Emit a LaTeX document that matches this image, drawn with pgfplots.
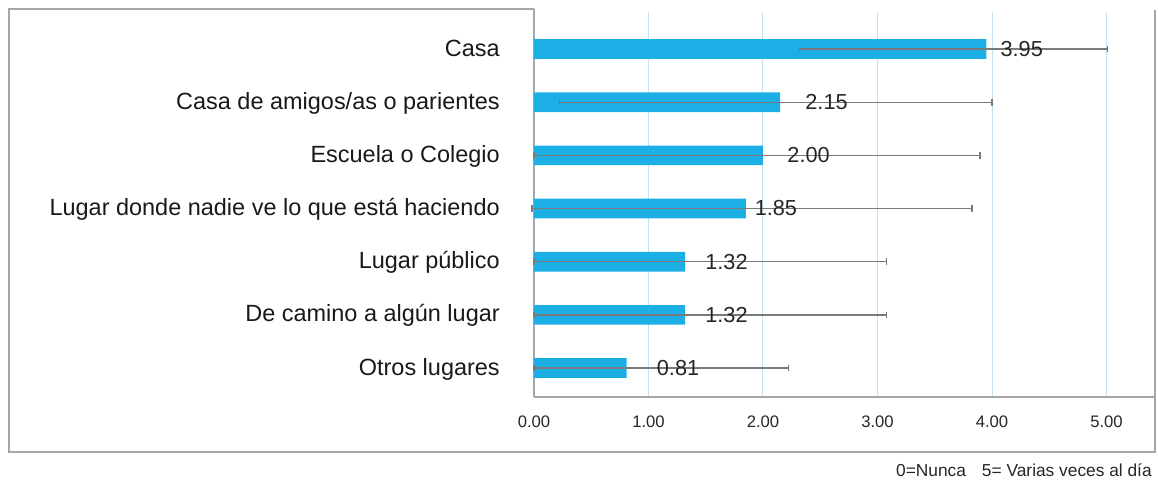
\documentclass[border=0pt]{standalone}
\usepackage{fontspec}
\setmainfont{Liberation Sans}
\usepackage{pgfplots}
\usepackage{pgfplotstable}
\pgfplotsset{compat=1.18}
\definecolor{barblue}{HTML}{1BAFE5}
\definecolor{gridblue}{HTML}{C3E2F2}
\definecolor{framegray}{HTML}{A6A6A6}
\definecolor{axisgray}{HTML}{A0A8B0}
\definecolor{errgray}{HTML}{7A7A7A}
\pgfplotstableread{
y v ep em
6 3.95 1.057 1.633
5 2.15 1.850 1.929
4 2.00 1.895 2.000
3 1.85 1.975 1.867
2 1.32 1.760 1.320
1 1.32 1.760 1.320
0 0.81 1.410 0.810
}\bars
\pgfplotstableread{
x y label
4.26 6 3.95
2.555 5 2.15
2.398 4 2.00
2.113 3 1.85
1.681 2 1.32
1.681 1 1.32
1.258 0 0.81
}\labels
\begin{document}
\begin{tikzpicture}
\path[use as bounding box] (0,0) rectangle (868.5pt,362.25pt);
\draw[framegray, line width=1.1pt] (400.5pt,355.5pt) -- (6.75pt,355.5pt) -- (6.75pt,23.25pt) -- (866.25pt,23.25pt) -- (866.25pt,354.75pt);
\draw[axisgray, line width=1.1pt] (400.5pt,355.5pt) -- (400.5pt,352pt);
\begin{axis}[
  at={(400.5pt,64.5pt)}, anchor=south west,
  scale only axis, width=465.75pt, height=288.75pt,
  xmin=0, xmax=5.4236, ymin=-0.545, ymax=6.696,
  axis x line*=bottom, axis y line*=left,
  x axis line style={framegray, line width=1.1pt, -},
  y axis line style={axisgray, line width=1.1pt, -},
  xtick={0,1,2,3,4,5},
  ytick={0,1,2,3,4,5,6},
  yticklabels={Otros lugares, De camino a algún lugar, Lugar público, Lugar donde nadie ve lo que está haciendo, Escuela o Colegio, Casa de amigos/as o parientes, Casa},
  major tick length=0pt,
  xmajorgrids, major grid style={gridblue, line width=0.75pt},
  /pgf/number format/assume math mode=true,
  xticklabel={\pgfmathprintnumber[fixed, fixed zerofill, precision=2]{\tick}},
  xticklabel style={font=\fontsize{12.5}{14}\selectfont, inner sep=0pt, anchor=north, yshift=-14pt, text=black!85},
  yticklabel style={font=\fontsize{17.6}{20}\selectfont, inner sep=0pt, anchor=base east, xshift=-25.5pt, yshift=-5.25pt, text=black!90},
  clip=false,
]
\addplot[xbar, bar width=0.37, fill=barblue, draw=none,
  error bars/.cd, x dir=both, x explicit,
  error mark=|,
  error bar style={errgray, line width=1pt},
  error mark options={errgray, mark size=2.5pt, line width=1pt}]
  table[x=v, y=y, x error plus=ep, x error minus=em] {\bars};
\addplot[draw=none, mark=none,
  nodes near coords, point meta=explicit symbolic,
  nodes near coords style={anchor=center, inner sep=0pt, font=\fontsize{16.3}{18}\selectfont, text=black!85}]
  table[x=x, y=y, meta=label] {\labels};
\end{axis}
\node[anchor=base east, inner sep=0pt, font=\fontsize{13}{15}\selectfont, text=black!85] at (864pt,5.25pt) {0=Nunca\hspace{12pt}5= Varias veces al día};
\end{tikzpicture}
\end{document}
